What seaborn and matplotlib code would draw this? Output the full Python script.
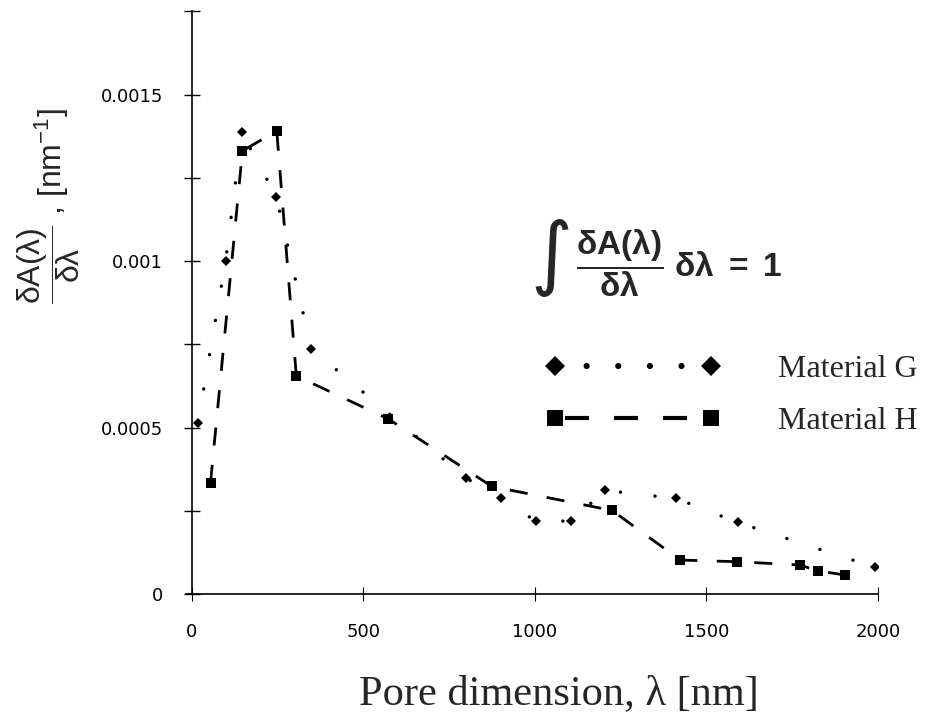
import matplotlib
matplotlib.use('Agg')
import matplotlib.pyplot as plt
from matplotlib.lines import Line2D
from matplotlib.ticker import FixedLocator
import pandas as pd
import seaborn as sns

# ---- data ----
pore_g = [18, 99, 146, 247, 349, 800, 900, 1003, 1106, 1205, 1412, 1591, 1991]
dist_g = [0.000513, 0.00100, 0.001387, 0.001192, 0.000736, 0.000348, 0.000288,
          0.000219, 0.000219, 0.000311, 0.000287, 0.000215, 0.000080]
pore_h = [55, 148, 248, 305, 573, 875, 1225, 1424, 1589, 1773, 1826, 1905]
dist_h = [0.000334, 0.001331, 0.001391, 0.000655, 0.000526, 0.000323, 0.000251,
          0.000102, 0.000097, 0.000087, 0.000069, 0.000057]
series_names = ['Material G', 'Material H']
x_ticks = [0, 500, 1000, 1500, 2000]
x_tick_labels = ['0', '500', '1000', '1500', '2000']
y_ticks = [0, 0.0005, 0.001, 0.0015]
y_tick_labels = ['0', '0.0005', '0.001', '0.0015']
y_minor_ticks = [0.00025, 0.00075, 0.00125, 0.00175]
x_label = 'Pore dimension, λ [nm]'
y_label = r'$\dfrac{\mathrm{δA(λ)}}{\mathrm{δλ}}$ , [nm$^{\mathrm{-1}}$]'
formula = r'$\dfrac{\mathbf{δA(λ)}}{\mathbf{δλ}}\ \mathbf{δλ\ =\ 1}$'

sns.set_style('ticks')
plt.rcParams['font.family'] = ['DejaVu Sans']
plt.rcParams['mathtext.fontset'] = 'custom'
plt.rcParams['mathtext.rm'] = 'Liberation Sans'
plt.rcParams['mathtext.it'] = 'Liberation Sans:italic'
plt.rcParams['mathtext.bf'] = 'Liberation Sans:bold'
plt.rcParams['mathtext.sf'] = 'Liberation Sans'

W, H = 937, 712
fig = plt.figure(figsize=(W / 100, H / 100), dpi=100)
ax = fig.add_axes([186.5 / W, 1 - 594 / H, 691.5 / W, 582.6 / H])

df_g = pd.DataFrame({'pore': pore_g, 'dist': dist_g})
df_h = pd.DataFrame({'pore': pore_h, 'dist': dist_h})

sns.lineplot(data=df_h, x='pore', y='dist', ax=ax, color='black', linewidth=2.0,
             linestyle=(0, (6.5, 7.0)), errorbar=None,
             marker='s', markersize=7.2, markeredgewidth=0, zorder=3)
sns.lineplot(data=df_g, x='pore', y='dist', ax=ax, color='black', linewidth=2.5,
             linestyle=(0, (0.01, 10.0)), dash_capstyle='round', errorbar=None,
             marker='D', markersize=5.2, markeredgewidth=0, zorder=4)

ax.set_xlim(-15, 2000)
ax.set_ylim(0, 0.00175 + 1e-9)
ax.spines['left'].set_position(('data', 0))
ax.spines['top'].set_visible(False)
ax.spines['right'].set_visible(False)
for s in ('left', 'bottom'):
    ax.spines[s].set_linewidth(1.2)
    ax.spines[s].set_color('black')

ax.xaxis.set_major_locator(FixedLocator(x_ticks))
ax.set_xticklabels(x_tick_labels)
ax.yaxis.set_major_locator(FixedLocator(y_ticks))
ax.set_yticklabels(y_tick_labels)
ax.yaxis.set_minor_locator(FixedLocator(y_minor_ticks))
ax.tick_params(axis='y', which='both', direction='inout', length=11.5, width=1.0,
               pad=15, labelsize=13, colors='black')
ax.tick_params(axis='x', which='major', direction='inout', length=10, width=0.8,
               pad=16, labelsize=13, colors='black')

ax.set_xlabel(x_label, fontfamily='Liberation Serif', fontsize=30.5)
ax.xaxis.set_label_coords(0.5387, -0.1888)
ax.xaxis.label.set_va('baseline')

ax.set_ylabel(y_label, fontfamily='Liberation Sans', fontsize=23)
ax.yaxis.set_label_coords(-0.200, 0.665)
ax.yaxis.label.set_va('center')
ax.yaxis.label.set_ha('center')

# legend (custom handles: markers at both ends as in the reference)
h_g = Line2D([], [], color='black', lw=4.5, linestyle=(0, (0.001, 5.06)),
             dash_capstyle='round', marker='D', markersize=10, markeredgewidth=0)
h_h = Line2D([], [], color='black', lw=3, linestyle=(9.36, (5.76, 6.0)),
             marker='s', markersize=11, markeredgewidth=0)
ax.legend([h_g, h_h], series_names, loc='upper left',
          bbox_to_anchor=(545 / W, 1 - 355 / H), bbox_transform=fig.transFigure,
          frameon=False, numpoints=2, handlelength=5.5, handletextpad=1.78,
          labelspacing=0.7, borderpad=0, borderaxespad=0,
          prop={'family': 'Liberation Serif', 'size': 23})

# normalisation formula
fig.text(551 / W, 1 - 258 / H, '∫', fontsize=58, family='DejaVu Sans',
         ha='center', va='center')
fig.text(576 / W, 1 - 263 / H, formula, fontsize=24, ha='left', va='center')

fig.savefig('out.png', dpi=100)
